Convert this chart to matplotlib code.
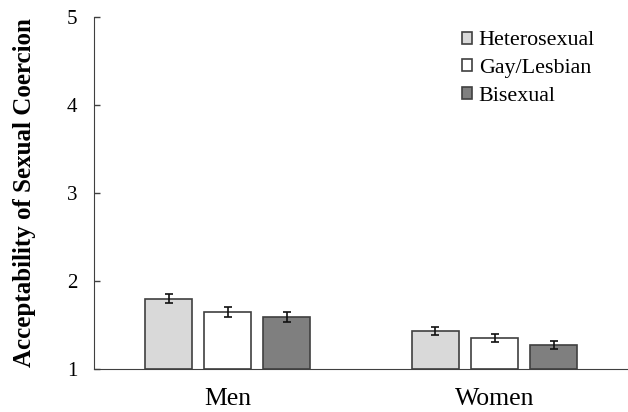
import numpy as np
import matplotlib.pyplot as plt

plt.rcParams['font.family'] = ['Liberation Serif', 'DejaVu Serif']

groups = ['Men', 'Women']
series = ['Heterosexual', 'Gay/Lesbian', 'Bisexual']
means = {
    'Heterosexual': [1.80, 1.43],
    'Gay/Lesbian': [1.65, 1.35],
    'Bisexual': [1.59, 1.27],
}
errors = {
    'Heterosexual': [0.05, 0.045],
    'Gay/Lesbian': [0.06, 0.045],
    'Bisexual': [0.06, 0.045],
}
colors = ['#d9d9d9', '#ffffff', '#7f7f7f']

fig = plt.figure(figsize=(6.28, 4.12), dpi=100)
ax = fig.add_axes([0.1497, 0.1044, 0.8503, 0.8543])

x = np.arange(len(groups))
width = 0.176
step = 0.221
for i, s in enumerate(series):
    pos = x + (i - 1) * step
    ax.bar(pos, np.array(means[s]) - 1, width, bottom=1, color=colors[i],
           edgecolor='#404040', linewidth=1.2, label=s, zorder=2)
    ax.errorbar(pos, means[s], yerr=errors[s], fmt='none', ecolor='#111111',
                elinewidth=1.2, capsize=2.8, capthick=1.2, zorder=3)

ax.set_xlim(-0.5, 1.5)
ax.set_ylim(1, 5)
ax.set_yticks([1, 2, 3, 4, 5])
ax.set_xticks(x)
ax.set_xticklabels(groups, fontsize=18.5)
ax.tick_params(axis='y', labelsize=15, direction='in', length=4.5, width=1,
               color='#404040', pad=12)
ax.tick_params(axis='x', length=0, pad=14)
ax.spines['top'].set_visible(False)
ax.spines['right'].set_visible(False)
ax.spines['left'].set_color('#404040')
ax.spines['bottom'].set_color('#404040')
ax.set_ylabel('Acceptability of Sexual Coercion', fontsize=18, fontweight='bold', labelpad=22)

ax.legend(loc='upper right', frameon=False, fontsize=15.8, handlelength=0.46,
          handleheight=0.46, handletextpad=0.3, labelspacing=0.4,
          bbox_to_anchor=(0.975, 1.015))

fig.savefig('out.png', dpi=100)
